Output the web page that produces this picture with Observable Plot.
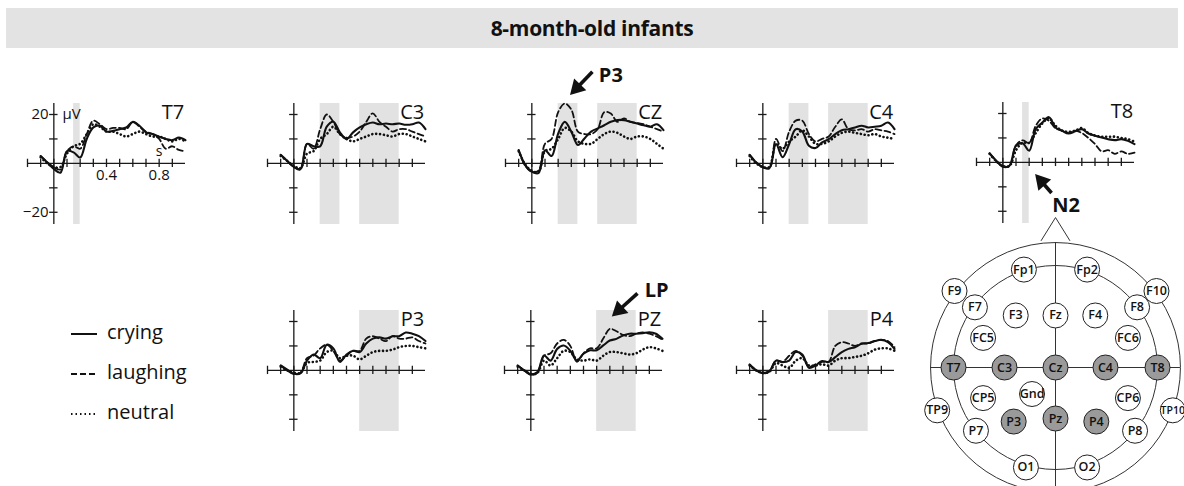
<!DOCTYPE html>
<html><head><meta charset="utf-8">
<script src="https://cdn.jsdelivr.net/npm/d3@7"></script>
<script src="https://cdn.jsdelivr.net/npm/@observablehq/plot@0.6"></script>
<style>
body{margin:0;background:#fff;font-family:"Open Sans",sans-serif;}
#root{position:relative;width:1184px;height:486px;overflow:hidden;background:#fff;}
#root svg{position:absolute;overflow:visible;}
#title{position:absolute;left:6px;top:8px;width:1172px;height:40px;background:#e3e3e3;text-align:center;line-height:40px;font-size:21px;font-weight:700;color:#111;letter-spacing:-0.3px;}
.leg{position:absolute;left:70px;font-size:20px;color:#111;line-height:24px;height:24px;}
.leg svg{position:relative !important;vertical-align:middle;margin-right:9px;}
</style></head><body><div id="root"><div id="title">8-month-old infants</div></div>
<script>
// ---- data ----
const times = [-0.1,-0.05,0,0.05,0.1,0.15,0.2,0.25,0.3,0.35,0.4,0.45,0.5,0.55,0.6,0.65,0.7,0.75,0.8,0.85,0.9,0.95,1.0];
const conditions = ["crying","laughing","neutral"];
const electrodes = ["T7","C3","CZ","C4","T8","P3","PZ","P4"];

const T7_crying   = [3,0.4,-2.3,-3.8,5,4.5,2.4,10,14.7,15.4,13,13.3,14,14.7,17,15.4,12.7,12,10.9,10,9.5,10.6,9.5];
const T7_laughing = [3,0.5,-1.5,-2.5,5,7,6,12,17.5,16,14,14.5,14.5,14,17,15,13,12,10,6,7,5.5,5];
const T7_neutral  = [2.5,0,-1.5,-1.5,4,7,8,12,16,15,13,13,12,11,12,13,12,11,11,10,9,10,9];

const C3_crying   = [3.5,1,-1.4,-2.3,8,7,7,15,17,12.7,10,12.7,14.7,16,16.7,16,16.3,16,16.3,15.8,16,16.7,14];
const C3_laughing = [3.5,1,-1.5,-2.5,8,6,14,20,17,12,10.5,11,13,17,20.5,17,15,13,14,14,13,12,11];
const C3_neutral  = [3,1,-1,-2,4,5,10,12,15,12,10,9,10,11,12,12,11.5,11,12,12,11,10,9];

const CZ_crying   = [5.4,-0.7,-3.4,-4,5.4,3,12.2,17,13,7.5,10.2,13,14.3,15.6,17,17.7,17.7,17,16.3,15.6,15,16,13.6];
const CZ_laughing = [5.4,-1,-3.5,-3,8,10,21,24.5,22,13,12,12,14,21,20.4,17,18.4,17,16.5,16,15,14,13];
const CZ_neutral  = [5,-0.5,-3,-3.5,5,6,10,14.5,13,9,8,8,10,12,13,12.5,11,10,11,11,10,8,6];

const C4_crying   = [3.5,0.4,-1.6,-1.9,7.9,2.5,7.9,14,13,7.2,6.3,8.6,9.9,12,13.6,14,14.7,15.4,14.7,15,15.4,16.7,14];
const C4_laughing = [3.5,0.4,-1.5,-2,10,5,13,17.5,17.5,12,9,10,11,15,18,14,13.5,14,13,14,13.5,13,12];
const C4_neutral  = [3,0,-1.5,-1.5,8,6,9,11,13.5,11,8,8,9,11,12.5,13,12.5,12,11.5,12,11,10.5,10];

const T8_crying   = [3.7,0.7,-1.8,-1.4,6.8,7.8,4.8,13.6,16.3,18.5,14.3,12.9,11.8,12.7,13.6,11.8,10.9,10.2,9.5,9.1,9.5,8.8,7.5];
const T8_laughing = [3.7,0.5,-1.5,-1.5,7,9,8,15,18,17,14,13,12,13,12,10,7.5,4.5,5,3.5,4.5,3.5,4];
const T8_neutral  = [3.5,0.5,-1.5,-1.5,5,8,8,12,16,18,15,13,12.5,13,14,12,11,10.5,10.5,10.5,10,9.5,8.5];

const P3_crying   = [2,0.3,-1.4,-1.2,4,6.5,5,10.5,9,3.5,6.5,8,7.5,11,13,13.5,13,14,14,15.5,15,14,12];
const P3_laughing = [2,0,-1.5,-1,5,6,9,10.5,8,4,6,8,8,13,14,13,12,14,13,13,13.5,12,11];
const P3_neutral  = [1.5,0,-1,-1,3,3.5,4,7.5,8,5,6,6,4.5,6,7.5,8,8,8.5,9.5,10,10,9.5,9];

const PZ_crying   = [2,0,-1.6,-0.7,6.1,4,8.8,10.2,8,4,6.8,8.2,8.2,10.2,12.2,12.9,14.3,15,15,15.2,15.6,15,12.9];
const PZ_laughing = [2,0,-1.8,-1,6,7,11,12.5,10,3.5,7,9,9,13,17,16,14.5,14,15,15.5,15,14,12.5];
const PZ_neutral  = [1.5,0,-1.5,-1,4,2,5,8,7.5,4.5,4,4.5,4,6,7.5,7.5,7,6.5,7,8.5,9.5,9,8];

const P4_crying   = [2.4,0,-1.1,-0.3,4,3.4,4,7.5,6.5,1.1,2,3.8,3.4,5.4,7.5,8.8,9.5,10.9,11.2,12,12.5,11.6,8.8];
const P4_laughing = [2.4,0,-1.2,-0.5,4,3.5,6,8,6,1.5,2.5,3.5,3.5,10,11.5,11,10,11,11,12,12.5,12,9.5];
const P4_neutral  = [2,0,-1,-0.5,3,2,1,4,5,2,2,2.5,2,4,5,5,5.5,6,7,8.5,9,9,8];

// analysis windows (s)
const earlyWindow = [0.15, 0.2];
const p3Window = [0.2, 0.35];
const lpWindow = [0.5, 0.8];

const xTicks = [-0.2,-0.1,0,0.1,0.2,0.3,0.4,0.5,0.6,0.7,0.8,0.9];
const yTicks = [-20,-10,10,20];
const xTickLabels = [0.4, 0.8];
const yTickLabels = [20, -20];

// head montage (unit = inner ring radius)
const headNames = ["Fp1","Fp2","F9","F10","F7","F8","F3","Fz","F4","FC5","FC6","T7","C3","Cz","C4","T8","CP5","Gnd","CP6","TP9","TP10","P3","Pz","P4","P7","P8","O1","O2"];
const headX = [-0.31,0.31,-0.99,0.99,-0.79,0.80,-0.39,0,0.39,-0.71,0.71,-1.0,-0.50,0,0.49,1.0,-0.71,-0.23,0.71,-1.16,1.15,-0.41,0,0.40,-0.78,0.78,-0.29,0.31];
const headY = [0.96,0.96,0.75,0.75,0.59,0.59,0.51,0.51,0.51,0.29,0.29,0,0,0,0,0,-0.30,-0.26,-0.30,-0.42,-0.42,-0.53,-0.50,-0.53,-0.62,-0.62,-0.98,-0.98];
const headActive = ["T7","C3","Cz","C4","T8","P3","Pz","P4"];

// ---- drawing ----
const seriesOf = {
  T7:[T7_crying,T7_laughing,T7_neutral], C3:[C3_crying,C3_laughing,C3_neutral],
  CZ:[CZ_crying,CZ_laughing,CZ_neutral], C4:[C4_crying,C4_laughing,C4_neutral],
  T8:[T8_crying,T8_laughing,T8_neutral], P3:[P3_crying,P3_laughing,P3_neutral],
  PZ:[PZ_crying,PZ_laughing,PZ_neutral], P4:[P4_crying,P4_laughing,P4_neutral]
};
const windowsOf = {T7:[earlyWindow], T8:[earlyWindow], C3:[p3Window,lpWindow], CZ:[p3Window,lpWindow], C4:[p3Window,lpWindow], P3:[lpWindow], PZ:[lpWindow], P4:[lpWindow]};
const layout = {T7:[53,163], C3:[293,163], CZ:[531,163], C4:[762,163], T8:[1002,162], P3:[293,370], PZ:[530,370], P4:[762,370]};

const lineStyle = [
  {strokeWidth: 2.1},
  {strokeWidth: 1.8, strokeDasharray: "6,3.2"},
  {strokeWidth: 2.6, strokeDasharray: "0.1,3.8", strokeLinecap: "round"}
];
const INK = "#111";
const root = document.getElementById("root");
const PW = 158, PH = 121, XD = [-0.2, 1.0], YD = [-25, 24.5];
const ML = 26, MR = 34, MT = 50, MB = 22;
const pxPerS = PW / (XD[1] - XD[0]), pxPerUV = PH / (YD[1] - YD[0]);

function arrowMarks(label, tail, tip, textAt) {
  const sx = (tip[0] - tail[0]) * pxPerS, sy = -(tip[1] - tail[1]) * pxPerUV;
  const len = Math.hypot(sx, sy), ux = sx / len, uy = sy / len;
  const r = 6.3, half = Math.sqrt(Math.PI * r * r / (Math.sqrt(3) * 3));
  const off = 2 * half;
  const c = [tip[0] - ux * off / pxPerS, tip[1] + uy * off / pxPerUV];
  const rot = Math.atan2(ux, -uy) * 180 / Math.PI;
  return [
    Plot.link([label], {x1: tail[0], y1: tail[1], x2: c[0], y2: c[1], stroke: INK, strokeWidth: 3.6}),
    Plot.dot([label], {x: c[0], y: c[1], symbol: "triangle", r, rotate: rot, fill: INK, stroke: "none"}),
    Plot.text([label], {x: textAt[0], y: textAt[1], text: d => d, fontSize: 20, fontWeight: "bold", fill: INK})
  ];
}

function drawPanel(name) {
  const [ax, base] = layout[name];
  const rows = [];
  conditions.forEach((c, k) => seriesOf[name][k].forEach((v, i) => rows.push({t: times[i], v, c})));
  const axisStyle = {stroke: "#1a1a1a", strokeWidth: 1.3};
  const marks = [
    Plot.rect(windowsOf[name], {x1: d => d[0], x2: d => d[1], y1: YD[0], y2: YD[1], fill: "#e2e2e2"}),
    Plot.ruleY([0], {x1: XD[0], x2: XD[1], ...axisStyle}),
    Plot.ruleX([0], {y1: YD[0], y2: YD[1], ...axisStyle}),
    Plot.ruleX(xTicks, {x: d => d, y1: -1.7, y2: 1.7, ...axisStyle}),
    Plot.ruleY(yTicks, {y: d => d, x1: -0.032, x2: 0.032, ...axisStyle}),
    ...conditions.map((c, k) => Plot.line(rows.filter(r => r.c === c), {x: "t", y: "v", curve: "catmull-rom", stroke: INK, ...lineStyle[k]})),
    Plot.text([name], {x: XD[1] - 0.01, y: 18.3, text: d => d, textAnchor: "end", lineAnchor: "bottom", fontSize: 20, fill: INK})
  ];
  if (name === "T7") {
    marks.push(
      Plot.text(yTickLabels, {x: -0.04, y: d => d, text: d => d < 0 ? "\u2212" + (-d) : String(d), textAnchor: "end", fontSize: 15, fill: INK}),
      Plot.text(["\u03bcV"], {x: 0.065, y: 20, text: d => d, textAnchor: "start", fontSize: 15, fill: INK}),
      Plot.text(xTickLabels, {x: d => d, y: -5, text: d => String(d), fontSize: 15, fill: INK}),
      Plot.text(["s"], {x: 0.8, y: 5, text: d => d, fontSize: 14, fill: INK})
    );
  }
  if (name === "CZ") marks.push(...arrowMarks("P3", [0.46, 37.5], [0.29, 28], [0.60, 36]));
  if (name === "PZ") marks.push(...arrowMarks("LP", [0.81, 31.5], [0.615, 22], [0.955, 32.7]));
  if (name === "T8") marks.push(...arrowMarks("N2", [0.37, -12.5], [0.245, -4.8], [0.48, -17.6]));

  const svg = Plot.plot({
    width: ML + PW + MR, height: MT + PH + MB,
    marginLeft: ML, marginRight: MR, marginTop: MT, marginBottom: MB,
    x: {domain: XD, axis: null}, y: {domain: YD, axis: null},
    style: {background: "transparent", overflow: "visible", fontFamily: "Open Sans"},
    marks
  });
  svg.style.left = (ax - ML - (0 - XD[0]) * pxPerS) + "px";
  svg.style.top = (base - MT - YD[1] * pxPerUV) + "px";
  root.appendChild(svg);
}
electrodes.forEach(drawPanel);

// head map
(function () {
  const PX = 102, cx = 1055, cy = 367, left = 900, top = 210, W = 284, H = 276;
  const outerR = 1.225, innerR = 1.0, elR = 12.5;
  const heads = headNames.map((n, i) => ({n, x: headX[i], y: headY[i], on: headActive.includes(n)}));
  const nose = [[-0.14, 1.245], [0, 1.47], [0.14, 1.245]];
  const svg = Plot.plot({
    width: W, height: H, margin: 0,
    x: {domain: [(left - cx) / PX, (left + W - cx) / PX], axis: null},
    y: {domain: [(cy - top - H) / PX, (cy - top) / PX], axis: null},
    style: {background: "transparent", overflow: "visible", fontFamily: "Open Sans"},
    marks: [
      Plot.line(nose, {x: d => d[0], y: d => d[1], stroke: "#333", strokeWidth: 1}),
      Plot.dot([0], {x: 0, y: 0, r: outerR * PX, fill: "none", stroke: "#333", strokeWidth: 1}),
      Plot.dot([0], {x: 0, y: 0, r: innerR * PX, fill: "none", stroke: "#333", strokeWidth: 1}),
      Plot.ruleY([0], {x1: -outerR, x2: outerR, stroke: "#333", strokeWidth: 1}),
      Plot.ruleX([0], {y1: -outerR, y2: outerR, stroke: "#333", strokeWidth: 1}),
      Plot.dot(heads, {x: "x", y: "y", r: elR, fill: d => d.on ? "#9a9a9a" : "#fff", stroke: "#222", strokeWidth: 1}),
      Plot.text(heads, {x: "x", y: "y", text: "n", fontSize: d => d.n.length > 3 ? 10.5 : 12.5, fill: INK, fontWeight: "600", letterSpacing: "-0.4px"})
    ]
  });
  svg.style.left = left + "px";
  svg.style.top = top + "px";
  root.appendChild(svg);
})();

// legend
const legendDash = ["", "6,3", "1.5,3"];
conditions.forEach((c, k) => {
  const div = document.createElement("div");
  div.className = "leg";
  div.style.top = (320 + 40 * k) + "px";
  div.innerHTML = `<svg width="28" height="10"><line x1="1" y1="5" x2="27" y2="5" stroke="${INK}" stroke-width="2" ${legendDash[k] ? `stroke-dasharray="${legendDash[k]}"` : ""}/></svg>${c}`;
  root.appendChild(div);
});
</script></body></html>
